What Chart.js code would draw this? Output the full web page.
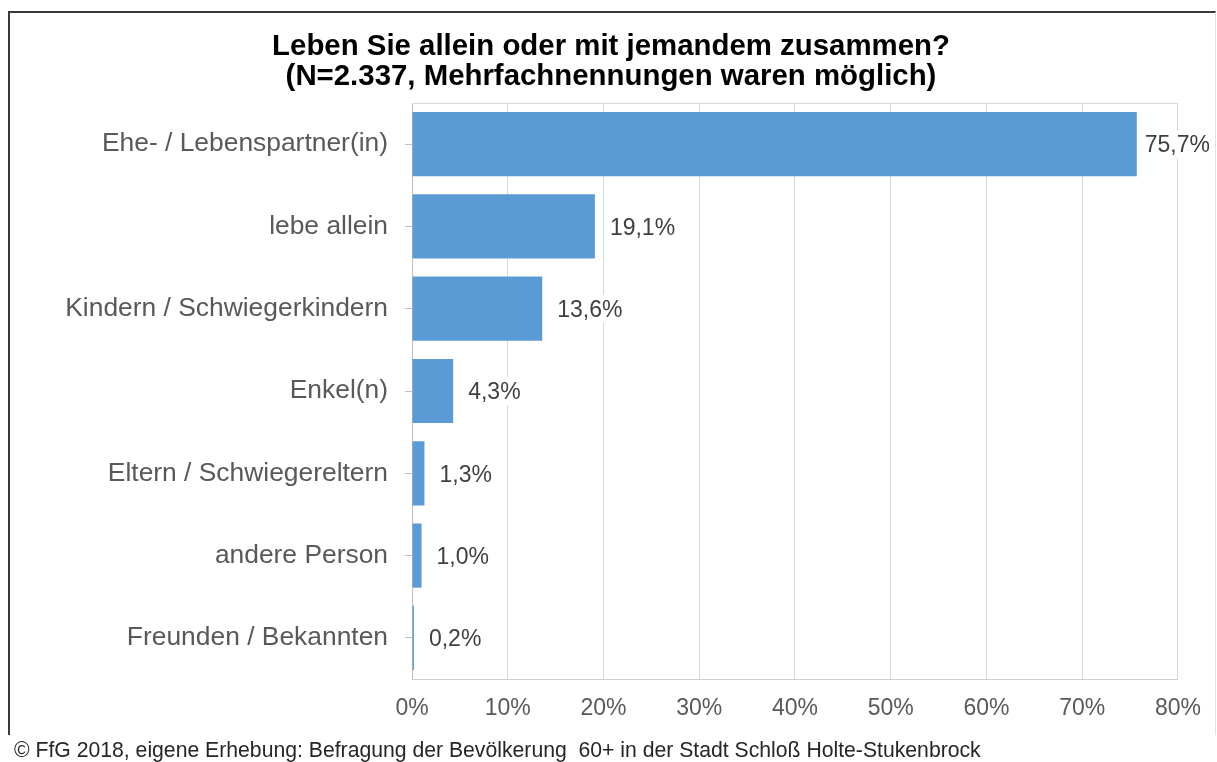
<!DOCTYPE html>
<html>
<head>
<meta charset="utf-8">
<script src="https://cdn.jsdelivr.net/npm/chart.js@4"></script>
<style>
    body { margin: 0; background: #fff; }
    #frame {
        position: absolute; left: 8px; top: 11px; width: 1205px; height: 722px;
        border-left: 2px solid #3a3a3a; border-top: 2px solid #3a3a3a; border-right: 1px solid #e2e2e2;
    }
    #chart { position: absolute; left: 0; top: 0; }
    #title {
        position: absolute; left: 0; top: 30px; width: 1222px; text-align: center;
        font: bold 29.4px/30px "Liberation Sans", Arial, sans-serif; color: #000;
    }
    #footer {
        position: absolute; left: 14px; top: 738px;
        font: 21.2px "Liberation Sans", Arial, sans-serif; color: #262626; white-space: pre;
    }
</style>
</head>
<body>
<div id="frame"></div>
<canvas id="chart" width="1217" height="762"></canvas>
<div id="title"></div>
<div id="footer">© FfG 2018, eigene Erhebung: Befragung der Bevölkerung  60+ in der Stadt Schloß Holte-Stukenbrock</div>
<script>
// Data
const categories = [
    'Ehe- / Lebenspartner(in)',
    'lebe allein',
    'Kindern / Schwiegerkindern',
    'Enkel(n)',
    'Eltern / Schwiegereltern',
    'andere Person',
    'Freunden / Bekannten'
];
const shares = [75.7, 19.1, 13.6, 4.3, 1.3, 1.0, 0.2];
const titleLines = [
    'Leben Sie allein oder mit jemandem zusammen?',
    '(N=2.337, Mehrfachnennungen waren möglich)'
];

const fontFamily = '"Liberation Sans", Arial, sans-serif';

document.getElementById('title').innerHTML = titleLines.join('<br>');

function pct(v) {
    return v.toFixed(1).replace('.', ',') + '%';
}

// top border of the plot area
const plotFrame = {
    id: 'plotFrame',
    beforeDatasetsDraw(chart) {
        const { ctx, chartArea } = chart;
        ctx.save();
        ctx.strokeStyle = '#d9d9d9';
        ctx.lineWidth = 1;
        ctx.beginPath();
        ctx.moveTo(chartArea.left, chartArea.top + 0.5);
        ctx.lineTo(chartArea.right, chartArea.top + 0.5);
        ctx.stroke();
        ctx.restore();
    }
};

// value labels right of the bars
const valueLabels = {
    id: 'valueLabels',
    afterDatasetsDraw(chart) {
        const { ctx } = chart;
        const meta = chart.getDatasetMeta(0);
        ctx.save();
        ctx.font = '23px ' + fontFamily;
        ctx.textBaseline = 'middle';
        ctx.textAlign = 'left';
        meta.data.forEach((bar, i) => {
            const text = pct(shares[i]);
            const w = ctx.measureText(text).width;
            // keep the label inside the frame, like Excel does
            const x = Math.min(bar.x + 15, chart.width - 7 - w);
            ctx.fillStyle = '#fff';
            ctx.fillRect(x - 3, bar.y - 14, w + 6, 28);
            ctx.fillStyle = '#404040';
            ctx.fillText(text, x, bar.y + 2);
        });
        ctx.restore();
    }
};

new Chart(document.getElementById('chart'), {
    type: 'bar',
    data: {
        labels: categories,
        datasets: [{
            data: shares,
            backgroundColor: '#5b9bd5',
            categoryPercentage: 1,
            barPercentage: 0.78
        }]
    },
    options: {
        indexAxis: 'y',
        responsive: false,
        animation: false,
        layout: { padding: { left: 0, right: 39, top: 103, bottom: 41 } },
        plugins: {
            legend: { display: false },
            tooltip: { enabled: false },
            title: { display: false }
        },
        scales: {
            x: {
                min: 0,
                max: 80,
                ticks: {
                    stepSize: 10,
                    callback: v => v + '%',
                    color: '#595959',
                    font: { family: fontFamily, size: 23 },
                    padding: 16,
                    maxRotation: 0
                },
                grid: { color: '#d9d9d9', drawTicks: false },
                border: { color: '#d0d0d0' },
                afterFit(scale) { scale.height = 42; }
            },
            y: {
                ticks: {
                    color: '#595959',
                    font: { family: fontFamily, size: 26.4 },
                    padding: 17
                },
                grid: {
                    drawOnChartArea: false,
                    drawTicks: true,
                    tickLength: 7,
                    offset: false,
                    color: '#bfbfbf'
                },
                border: { color: '#bfbfbf' },
                afterFit(scale) { scale.width = 412; }
            }
        }
    },
    plugins: [plotFrame, valueLabels]
});
</script>
</body>
</html>
